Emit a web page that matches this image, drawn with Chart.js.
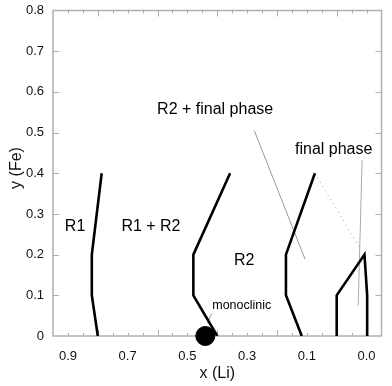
<!DOCTYPE html>
<html>
<head>
<meta charset="utf-8">
<script src="https://cdn.jsdelivr.net/npm/chart.js@4.4.1/dist/chart.umd.min.js"></script>
<style>
  html, body { margin: 0; padding: 0; background: #fff; }
  #wrap { width: 392px; height: 386px; }
</style>
</head>
<body>
<div id="wrap"><canvas id="phaseChart"></canvas></div>
<script>
// phase boundaries, x (Li) vs y (Fe)
const boundaryR1 = [{x: 0.80, y: 0}, {x: 0.82, y: 0.1}, {x: 0.82, y: 0.2}, {x: 0.787, y: 0.4}];
const boundaryR1R2 = [{x: 0.40, y: 0}, {x: 0.48, y: 0.1}, {x: 0.48, y: 0.2}, {x: 0.357, y: 0.4}];
const boundaryR2 = [{x: 0.117, y: 0}, {x: 0.17, y: 0.1}, {x: 0.17, y: 0.2}, {x: 0.073, y: 0.4}];
const boundaryFinal = [{x: 0.0, y: 0}, {x: 0.0, y: 0.1}, {x: -0.093, y: 0.2}, {x: -0.102, y: 0.1}, {x: -0.102, y: 0}];
const dottedLink = [{x: 0.073, y: 0.4}, {x: -0.076, y: 0.218}];
const monoclinicPoint = [{x: 0.44, y: 0}];

// leader lines from labels
const leaderR2Final = [{x: 0.276, y: 0.505}, {x: 0.106, y: 0.189}];
const leaderFinal = [{x: -0.085, y: 0.432}, {x: -0.072, y: 0.075}];
const leaderMono = [{x: 0.419, y: 0.055}, {x: 0.432, y: 0.033}];

// region labels [text, x, y]
const regionLabels = [
    ['R1', 0.876, 0.27],
    ['R1 + R2', 0.622, 0.27],
    ['R2', 0.31, 0.185],
    ['R2 + final phase', 0.407, 0.556],
    ['final phase', 0.01, 0.458]
];
const monoLabel = ['monoclinic', 0.318, 0.076];

const xTickValues = [0.9, 0.7, 0.5, 0.3, 0.1, -0.1];
const xTickLabels = ['0.9', '0.7', '0.5', '0.3', '0.1', '0.0'];
const xMajorTicks = [0.8, 0.6, 0.4, 0.2, 0.0];
const yTickValues = [0, 0.1, 0.2, 0.3, 0.4, 0.5, 0.6, 0.7, 0.8];
const yTickLabels = ['0', '0.1', '0.2', '0.3', '0.4', '0.5', '0.6', '0.7', '0.8'];

const FONT = '"Liberation Sans", Arial, sans-serif';
const AXIS_GREY = '#b0b0b0';

function lineSet(data, opts = {}) {
    return Object.assign({
        data: data,
        showLine: true,
        borderColor: '#000',
        borderWidth: 2.6,
        pointRadius: 0,
        tension: 0,
        fill: false
    }, opts);
}

const frameAndLabels = {
    id: 'frameAndLabels',
    // frame + ticks go under the data so the dot covers the axis line
    beforeDatasetsDraw(chart) {
        const ctx = chart.ctx;
        const a = chart.chartArea;
        const xs = chart.scales.x;
        const ys = chart.scales.y;
        ctx.save();

        ctx.strokeStyle = AXIS_GREY;
        ctx.lineWidth = 1.5;
        ctx.strokeRect(a.left, a.top, a.right - a.left, a.bottom - a.top);

        // x ticks (minor every 0.05, major longer), top and bottom, pointing inward
        ctx.lineWidth = 1;
        for (let i = -2; i <= 18; i++) {
            const v = i * 0.05;
            const px = Math.round(xs.getPixelForValue(v)) + 0.5;
            if (px <= a.left + 1 || px >= a.right - 1) continue;
            const major = xMajorTicks.some(m => Math.abs(m - v) < 1e-6);
            const len = major ? 6 : 3;
            ctx.beginPath();
            ctx.moveTo(px, a.bottom); ctx.lineTo(px, a.bottom - len);
            ctx.moveTo(px, a.top); ctx.lineTo(px, a.top + len);
            ctx.stroke();
        }
        // y ticks left and right
        yTickValues.forEach(v => {
            const py = Math.round(ys.getPixelForValue(v)) + 0.5;
            if (py <= a.top + 1 || py >= a.bottom - 1) return;
            ctx.beginPath();
            ctx.moveTo(a.left, py); ctx.lineTo(a.left + 6, py);
            ctx.moveTo(a.right, py); ctx.lineTo(a.right - 6, py);
            ctx.stroke();
        });
        ctx.restore();
    },
    afterDraw(chart) {
        const ctx = chart.ctx;
        const a = chart.chartArea;
        const xs = chart.scales.x;
        const ys = chart.scales.y;
        ctx.save();

        // tick labels
        ctx.fillStyle = '#111';
        ctx.font = '13px ' + FONT;
        ctx.textAlign = 'center';
        ctx.textBaseline = 'middle';
        xTickValues.forEach((v, i) => {
            ctx.fillText(xTickLabels[i], xs.getPixelForValue(v), a.bottom + 20);
        });
        ctx.textAlign = 'right';
        yTickValues.forEach((v, i) => {
            ctx.fillText(yTickLabels[i], a.left - 9, ys.getPixelForValue(v));
        });

        // axis titles
        ctx.font = '16px ' + FONT;
        ctx.textAlign = 'center';
        ctx.fillText('x (Li)', (a.left + a.right) / 2, a.bottom + 38);
        ctx.save();
        ctx.translate(17, 168);
        ctx.rotate(-Math.PI / 2);
        ctx.fillText('y (Fe)', 0, 0);
        ctx.restore();

        // region labels
        ctx.fillStyle = '#000';
        ctx.font = '16px ' + FONT;
        regionLabels.forEach(([t, x, y]) => {
            ctx.fillText(t, xs.getPixelForValue(x), ys.getPixelForValue(y));
        });
        ctx.font = '12.5px ' + FONT;
        ctx.fillText(monoLabel[0], xs.getPixelForValue(monoLabel[1]), ys.getPixelForValue(monoLabel[2]));

        ctx.restore();
    }
};

new Chart(document.getElementById('phaseChart'), {
    type: 'scatter',
    data: {
        datasets: [
            lineSet(boundaryR1),
            lineSet(boundaryR1R2),
            lineSet(boundaryR2),
            lineSet(boundaryFinal),
            lineSet(dottedLink, {borderColor: '#999', borderWidth: 1, borderDash: [1, 4]}),
            lineSet(leaderR2Final, {borderColor: '#999', borderWidth: 1}),
            lineSet(leaderFinal, {borderColor: '#aaa', borderWidth: 1}),
            lineSet(leaderMono, {borderColor: '#999', borderWidth: 1}),
            {
                data: monoclinicPoint,
                showLine: false,
                pointRadius: 9.5,
                pointBackgroundColor: '#000',
                pointBorderColor: '#000',
                clip: false
            }
        ]
    },
    options: {
        responsive: true,
        maintainAspectRatio: false,
        animation: false,
        layout: { padding: { left: 53, right: 9, top: 7, bottom: 50 } },
        plugins: {
            legend: { display: false },
            tooltip: { enabled: false }
        },
        scales: {
            x: { type: 'linear', min: -0.15, max: 0.95, reverse: true, display: false },
            y: { type: 'linear', min: 0, max: 0.8, display: false }
        }
    },
    plugins: [frameAndLabels]
});
</script>
</body>
</html>
